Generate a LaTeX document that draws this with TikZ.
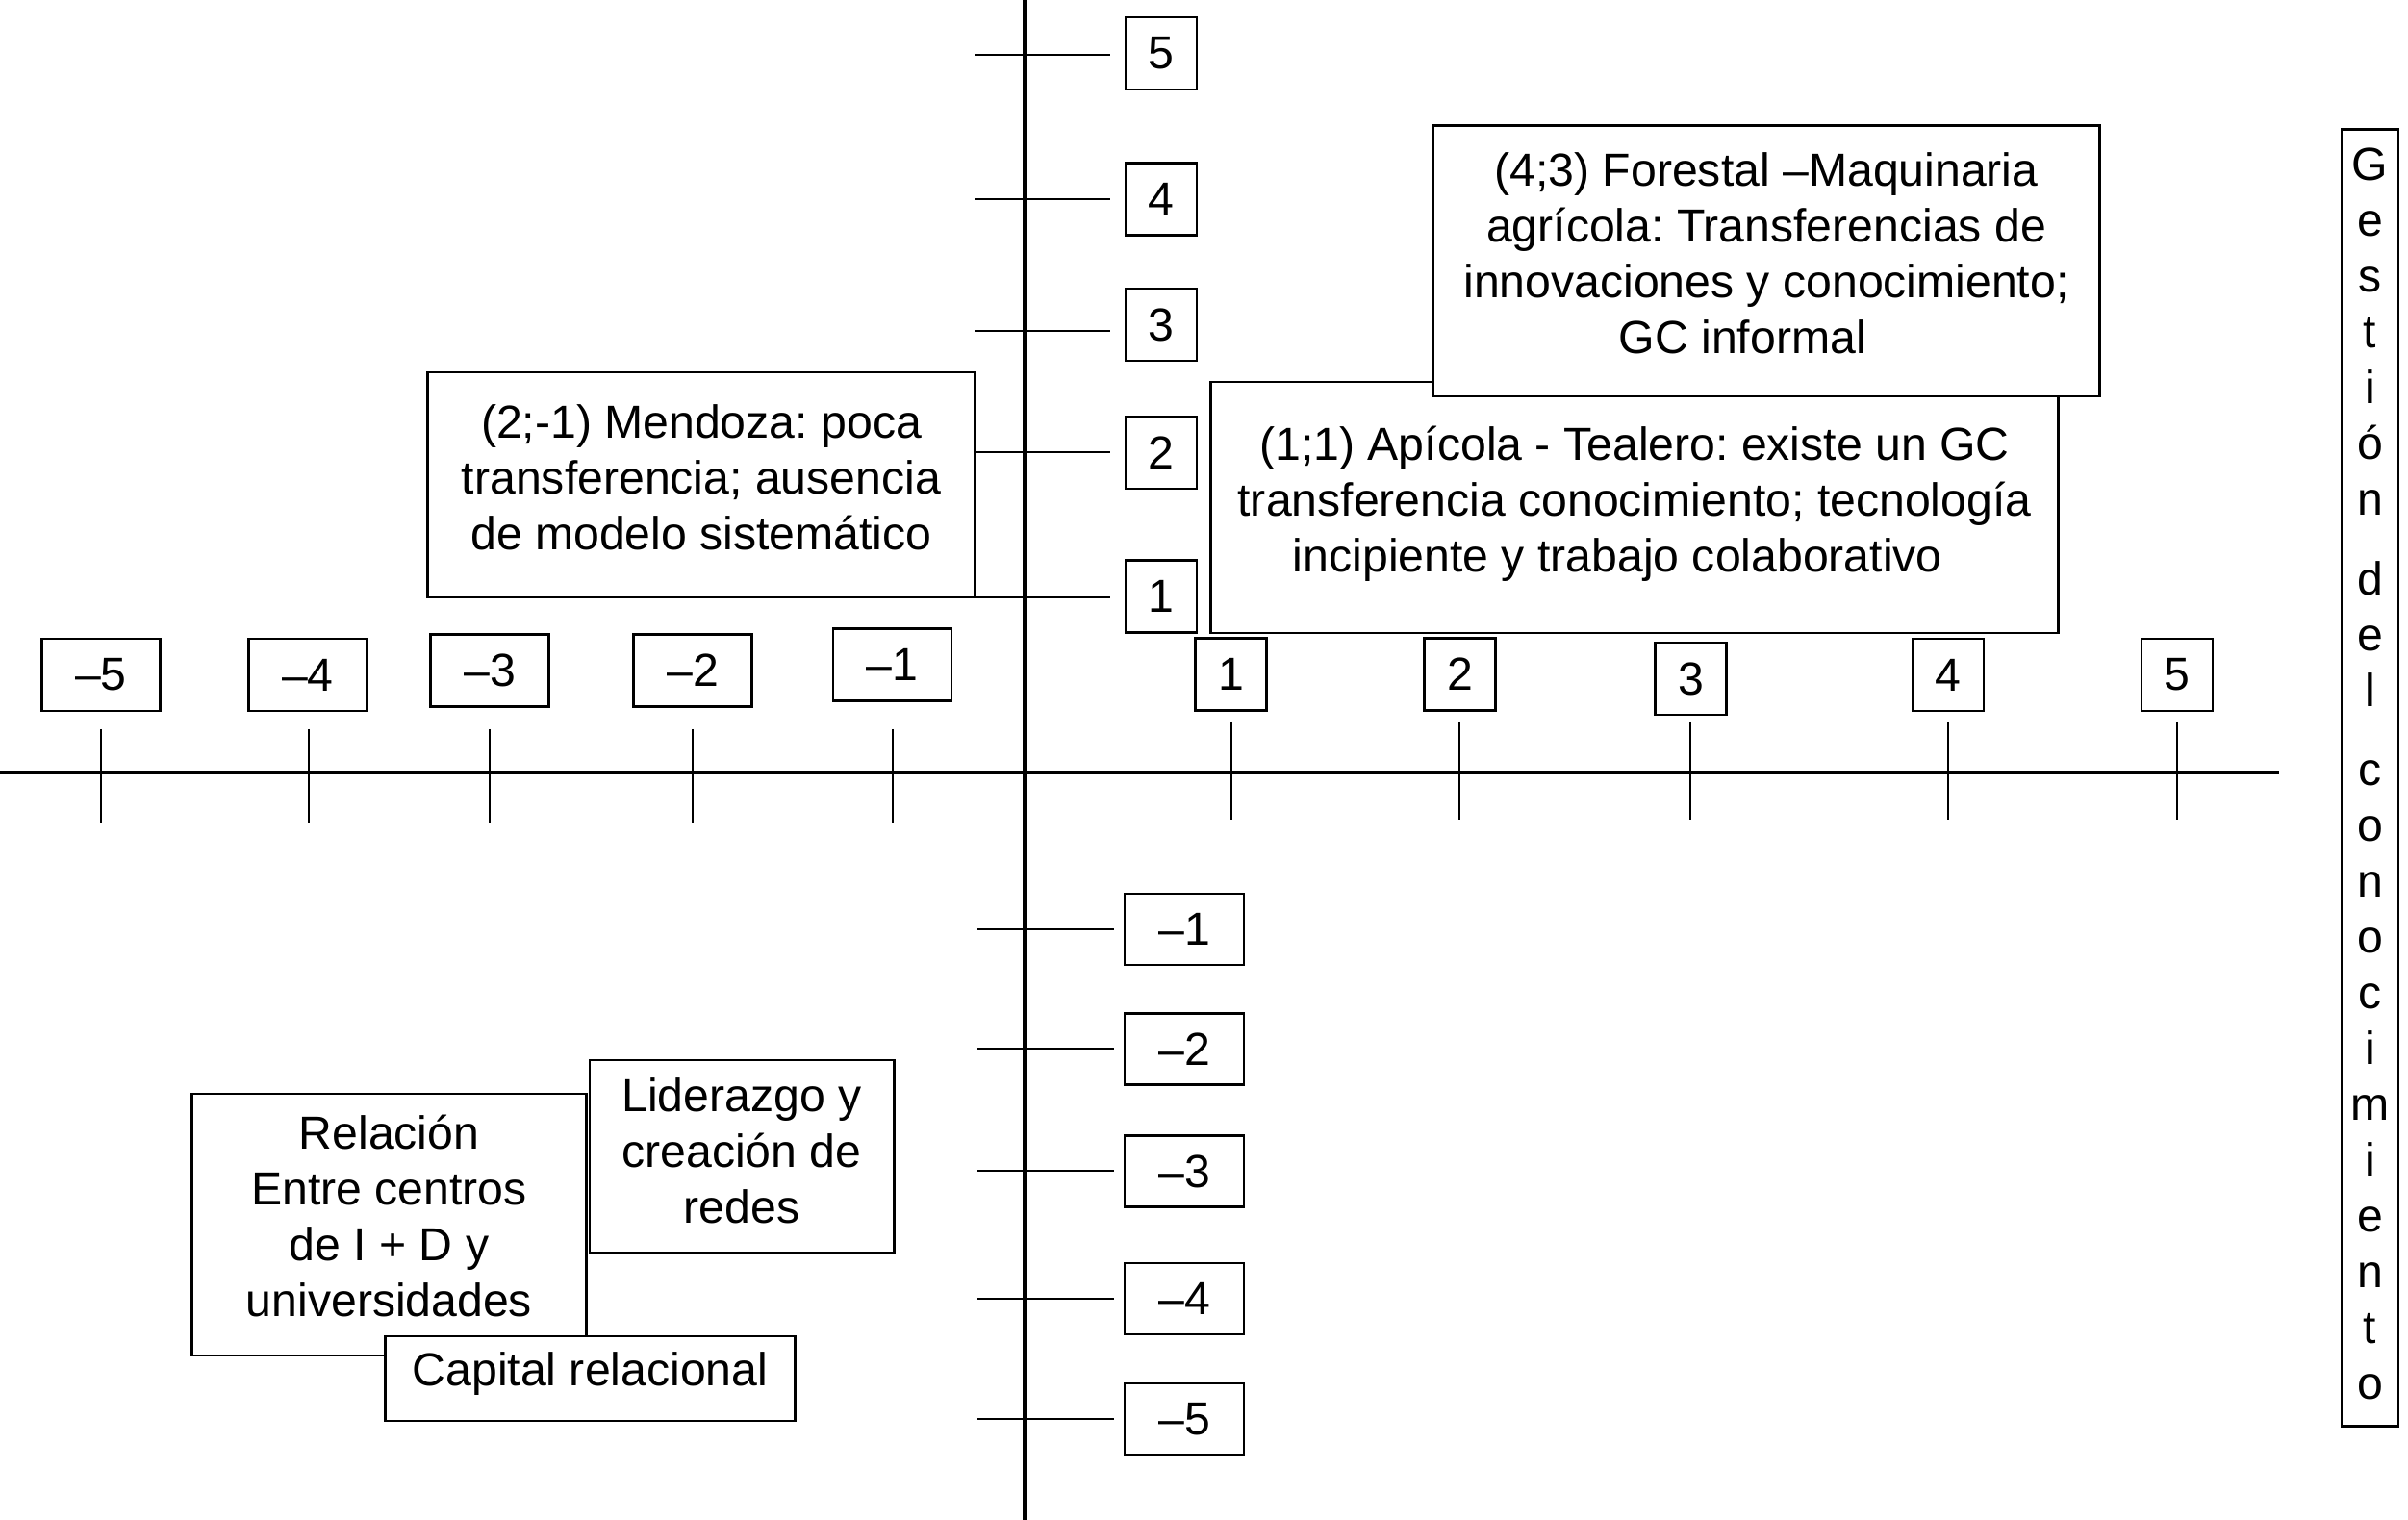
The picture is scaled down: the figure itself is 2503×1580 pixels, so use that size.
\documentclass[tikz,border=0pt]{standalone}
\usepackage{fontspec}
\setmainfont{Liberation Sans}
\frenchspacing
\newcommand\myfs{\fontsize{13.7}{16.5}\selectfont}
\tikzset{
  box/.style={draw, line width=0.8pt, fill=white, inner sep=0pt, align=center, font=\myfs},
  sqbox/.style={box, minimum width=0.74cm, minimum height=0.75cm},
  widebox/.style={box, minimum width=1.23cm, minimum height=0.75cm},
  axisline/.style={line width=1pt},
  tickline/.style={line width=0.7pt},
}
\begin{document}
\begin{tikzpicture}[x=0.01cm,y=-0.01cm]
\useasboundingbox (0,0) rectangle (2503,1580);
% axes
\coordinate (xl) at (0,803);
\coordinate (xr) at (2369,803);
\coordinate (yt) at (1065,0);
\coordinate (yb) at (1065,1580);
\draw[axisline] (xl) -- (xr);
\draw[axisline] (yt) -- (yb);
% y ticks
\foreach \yy in {57,207,344,470,621}{\draw[tickline] (1013,\yy) -- (1154,\yy);}
\foreach \yy in {966,1090,1217,1350,1475}{\draw[tickline] (1016,\yy) -- (1158,\yy);}
% x ticks
\foreach \xx in {105,321,509,720,928}{\draw[tickline] (\xx,758) -- (\xx,856);}
\foreach \xx in {1280,1517,1757,2025,2263}{\draw[tickline] (\xx,750) -- (\xx,852);}
% y labels positive
\node[sqbox] (y5) at (1207,55.5) {5};
\node[sqbox] (y4) at (1207,207) {4};
\node[sqbox] (y3) at (1207,337.5) {3};
\node[sqbox] (y2) at (1207,470.5) {2};
\node[sqbox] (y1) at (1207,620) {1};
% y labels negative
\node[box, minimum width=1.24cm, minimum height=0.74cm] (ym1) at (1231,966) {–1};
\node[box, minimum width=1.24cm, minimum height=0.74cm] (ym2) at (1231,1090.5) {–2};
\node[box, minimum width=1.24cm, minimum height=0.74cm] (ym3) at (1231,1217.5) {–3};
\node[box, minimum width=1.24cm, minimum height=0.74cm] (ym4) at (1231,1350) {–4};
\node[box, minimum width=1.24cm, minimum height=0.74cm] (ym5) at (1231,1475) {–5};
% x labels negative
\node[widebox] (xm5) at (105,701.5) {–5};
\node[widebox] (xm4) at (320,701.5) {–4};
\node[widebox] (xm3) at (509,697) {–3};
\node[widebox] (xm2) at (720,697) {–2};
\node[widebox] (xm1) at (927.5,691) {–1};
% x labels positive
\node[sqbox] (x1) at (1279.5,701) {1};
\node[sqbox] (x2) at (1517.5,701) {2};
\node[sqbox] (x3) at (1757.5,705.5) {3};
\node[sqbox] (x4) at (2025,701.5) {4};
\node[sqbox] (x5) at (2263,701.5) {5};
% description boxes
\node[box, minimum width=5.68cm, minimum height=2.34cm, text depth=4.6pt] (mendoza) at (729,504)
  {(2;-1) Mendoza: poca\\transferencia; ausencia\\de modelo sistemático};
\node[box, minimum width=8.80cm, minimum height=2.61cm, text depth=4.7pt] (apicola) at (1699,527.5)
  {(1;1) Apícola - Tealero: existe un GC\\transferencia conocimiento; tecnología\\incipiente y trabajo colaborativo\hspace*{10pt}};
\node[box, minimum width=6.92cm, minimum height=2.81cm, text depth=4.6pt] (forestal) at (1836,271.5)
  {(4;3) Forestal –Maquinaria\\agrícola: Transferencias de\\innovaciones y conocimiento;\\GC informal\hspace*{14pt}};
\node[box, minimum width=4.09cm, minimum height=2.72cm, text depth=5.4pt] (relacion) at (404.5,1273)
  {Relación\\Entre centros\\de I + D y\\universidades};
\node[box, minimum width=3.16cm, minimum height=2.00cm, text depth=3.6pt] (liderazgo) at (771,1202)
  {Liderazgo y\\creación de\\redes};
\node[box, minimum width=4.25cm, minimum height=0.88cm, text depth=5.5pt] (capital) at (613.5,1433)
  {Capital relacional};
\node[box, minimum width=0.59cm, minimum height=13.47cm, text depth=2.4pt, font=\fontsize{13.7}{16.5}\selectfont] (gestion) at (2463.5,808.5)
  {G\\e\\s\\t\\i\\ó\\n\\[7pt]d\\e\\l\\[7pt]c\\o\\n\\o\\c\\i\\m\\i\\e\\n\\t\\o};
\end{tikzpicture}
\end{document}
